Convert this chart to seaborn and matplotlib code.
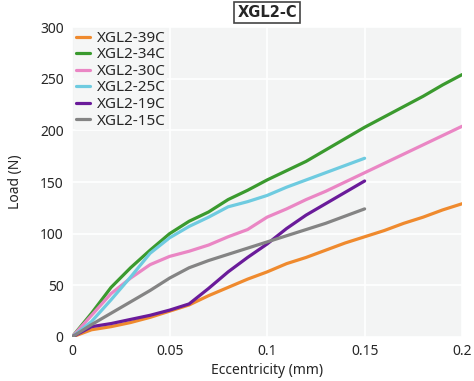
import numpy as np
import pandas as pd
import matplotlib
matplotlib.use("Agg")
import matplotlib.pyplot as plt
import seaborn as sns

series_names = ["XGL2-39C", "XGL2-34C", "XGL2-30C", "XGL2-25C", "XGL2-19C", "XGL2-15C"]
colors = ["#ef8a2e", "#3a9a2e", "#ea86c4", "#6ecbe0", "#6a1b9a", "#848484"]

x_long = [0, 0.01, 0.02, 0.03, 0.04, 0.05, 0.06, 0.07, 0.08, 0.09, 0.1,
          0.11, 0.12, 0.13, 0.14, 0.15, 0.16, 0.17, 0.18, 0.19, 0.2]
x_short = [0, 0.01, 0.02, 0.03, 0.04, 0.05, 0.06, 0.07, 0.08, 0.09, 0.1,
           0.11, 0.12, 0.13, 0.14, 0.15]

load_39c = [0, 7, 10, 14, 19, 25, 31, 40, 48, 56, 63, 71, 77, 84, 91, 97, 103, 110, 116, 123, 129]
load_34c = [0, 23, 48, 67, 84, 100, 112, 121, 133, 142, 152, 161, 170, 181, 192, 203, 213, 223, 233, 244, 254]
load_30c = [0, 21, 42, 57, 70, 78, 83, 89, 97, 104, 116, 124, 133, 141, 150, 159, 168, 177, 186, 195, 204]
load_25c = [0, 15, 36, 58, 81, 96, 107, 116, 126, 131, 137, 145, 152, 159, 166, 173]
load_19c = [0, 10, 13, 17, 21, 26, 32, 47, 63, 77, 90, 105, 118, 129, 140, 151]
load_15c = [0, 12, 23, 34, 45, 57, 67, 74, 80, 86, 92, 98, 104, 110, 117, 124]

x_ticks = [0, 0.05, 0.1, 0.15, 0.2]
x_tick_labels = ["0", "0.05", "0.1", "0.15", "0.2"]
y_ticks = [0, 50, 100, 150, 200, 250, 300]

frames = []
for name, xs, ys in [
    ("XGL2-39C", x_long, load_39c),
    ("XGL2-34C", x_long, load_34c),
    ("XGL2-30C", x_long, load_30c),
    ("XGL2-25C", x_short, load_25c),
    ("XGL2-19C", x_short, load_19c),
    ("XGL2-15C", x_short, load_15c),
]:
    frames.append(pd.DataFrame({"x": xs, "y": ys, "series": name}))
df = pd.concat(frames, ignore_index=True)

sns.set_theme(style="darkgrid", rc={"axes.facecolor": "#f3f4f4", "grid.color": "white",
                                     "grid.linewidth": 1.2})
plt.rcParams["font.family"] = ["Noto Sans", "DejaVu Sans"]

fig = plt.figure(figsize=(4.74, 3.81), dpi=100)
ax = fig.add_axes([0.152, 0.1155, 0.823, 0.8135])

sns.lineplot(data=df, x="x", y="y", hue="series", hue_order=series_names,
             palette=colors, linewidth=2.3, ax=ax, sort=False)

ax.set_xlim(0, 0.2)
ax.set_ylim(0, 300)
ax.set_xticks(x_ticks)
ax.set_xticklabels(x_tick_labels)
ax.set_yticks(y_ticks)
ax.tick_params(axis="x", labelsize=10, pad=5, length=0)
ax.tick_params(axis="y", labelsize=10, pad=6, length=0)
ax.set_xlabel("Eccentricity (mm)", fontsize=10, labelpad=3)
ax.set_ylabel("Load (N)", fontsize=10, labelpad=12)
for s in ax.spines.values():
    s.set_visible(False)

ax.set_title("XGL2-C", fontsize=10.5, fontweight="bold", pad=7,
             family=["DejaVu Sans"],
             bbox=dict(boxstyle="square,pad=0.2", facecolor="white", edgecolor="#444444", linewidth=1.2))

leg = ax.legend(loc="upper left", fontsize=11, frameon=True, handlelength=0.95,
                handletextpad=0.4, labelspacing=0.1, borderaxespad=0.15, borderpad=0.1)
leg.get_frame().set_facecolor("#f6f7f7")
leg.get_frame().set_edgecolor("none")
leg.get_frame().set_alpha(0.9)

fig.savefig("out.png", dpi=100)
